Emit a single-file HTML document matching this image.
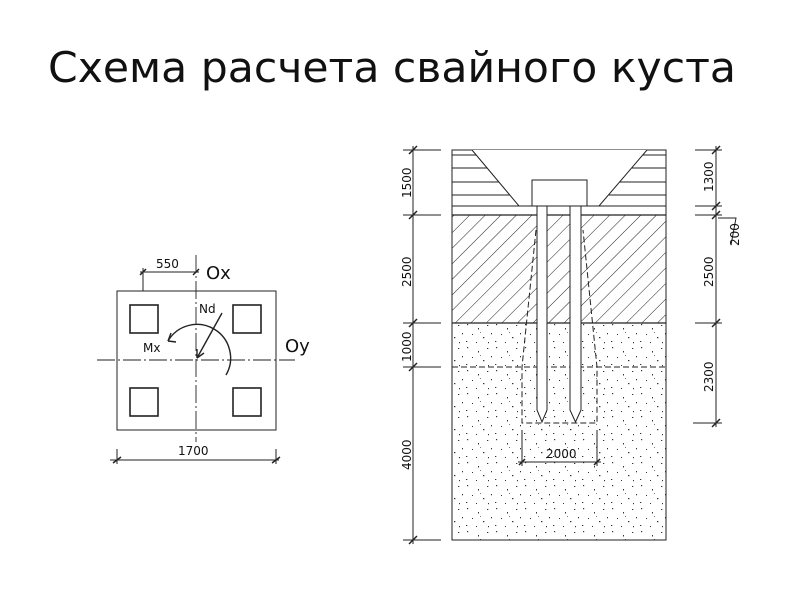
<!DOCTYPE html>
<html><head><meta charset="utf-8"><style>html,body{margin:0;padding:0;background:#fff}svg{display:block}</style></head><body>
<svg width="800" height="600" viewBox="0 0 800 600" xmlns="http://www.w3.org/2000/svg" font-family="'DejaVu Sans','Liberation Sans',sans-serif">
<defs>
<pattern id="hat" width="11" height="11" patternUnits="userSpaceOnUse" patternTransform="rotate(45)">
<line x1="0" y1="0" x2="0" y2="11" stroke="#222" stroke-width="1"/></pattern>
<pattern id="dots" width="29" height="23" patternUnits="userSpaceOnUse">
<g fill="#333"><rect x="3" y="2" width="1.2" height="1.2"/><rect x="14" y="6" width="1" height="1.5"/><rect x="23" y="3" width="1.3" height="1"/><rect x="8" y="12" width="1" height="1"/><rect x="19" y="15" width="1.4" height="1.2"/><rect x="27" y="11" width="1" height="1.3"/><rect x="2" y="19" width="1.3" height="1"/><rect x="12" y="20" width="1" height="1"/><rect x="24" y="20" width="1" height="1.2"/><rect x="16" y="10" width="0.8" height="0.8"/></g></pattern>
</defs>
<text x="48" y="82" font-size="42" font-family="'DejaVu Sans',sans-serif" textLength="688" lengthAdjust="spacingAndGlyphs" fill="#111">Схема расчета свайного куста</text>

<!-- left plan -->
<g stroke="#222" fill="none">
<rect x="117" y="291" width="159" height="139" stroke-width="1"/>
<g stroke-width="1.6"><rect x="130" y="305" width="28" height="28"/><rect x="233" y="305" width="28" height="28"/><rect x="130" y="388" width="28" height="28"/><rect x="233" y="388" width="28" height="28"/></g>
<line x1="196" y1="255" x2="196" y2="442" stroke-dasharray="18,3,2,3" stroke-width="0.9"/>
<line x1="97" y1="360" x2="295" y2="360" stroke-dasharray="18,3,2,3" stroke-width="0.9"/>
<line x1="140" y1="272" x2="199" y2="272"/><line x1="143" y1="268" x2="143" y2="291"/>
<line x1="140" y1="275" x2="146" y2="269" stroke-width="1.5"/><line x1="193" y1="275" x2="199" y2="269" stroke-width="1.5"/>
<line x1="110" y1="460" x2="279" y2="460"/><line x1="117" y1="449" x2="117" y2="464"/><line x1="276" y1="449" x2="276" y2="464"/>
<line x1="113" y1="463" x2="121" y2="457" stroke-width="1.5"/><line x1="272" y1="463" x2="280" y2="457" stroke-width="1.5"/>
<path d="M226 375 A31 31 0 0 0 168 341" stroke-width="1.4"/>
<path d="M168 341 l3 -8 M168 341 l8 1" stroke-width="1.4"/>
<line x1="222" y1="313" x2="197" y2="358" stroke-width="1.4"/>
<path d="M197 358 l0 -9 M197 358 l7 -5" stroke-width="1.4"/>
</g>
<g fill="#111" font-size="12"><text x="156" y="268">550</text><text x="178" y="455">1700</text><text x="199" y="313">Nd</text><text x="143" y="352">Mx</text></g>
<g fill="#111" font-size="18"><text x="206" y="279">Ox</text><text x="285" y="352">Oy</text></g>

<!-- section -->
<rect x="452" y="323" width="214" height="217" fill="url(#dots)"/>
<path d="M452 215 H537 V323 H452Z M547 215 H570 V323 H547Z M581 215 H666 V323 H581Z" fill="url(#hat)"/>
<g stroke="#222" fill="none" stroke-width="1">
<rect x="452" y="150" width="214" height="390"/>
<line x1="472" y1="150" x2="647" y2="150" stroke-dasharray="5,3"/>
<line x1="452" y1="150" x2="472" y2="150"/><line x1="647" y1="150" x2="666" y2="150"/>
<polyline points="472,150 519,206 599,206 647,150" fill="#fff"/>
<g><line x1="452" y1="155" x2="476" y2="155"/><line x1="643" y1="155" x2="666" y2="155"/>
<line x1="452" y1="168" x2="487" y2="168"/><line x1="632" y1="168" x2="666" y2="168"/>
<line x1="452" y1="182" x2="499" y2="182"/><line x1="620" y1="182" x2="666" y2="182"/>
<line x1="452" y1="195" x2="510" y2="195"/><line x1="609" y1="195" x2="666" y2="195"/></g>
<line x1="452" y1="206" x2="666" y2="206"/>
<line x1="452" y1="215" x2="666" y2="215" stroke-width="1.3"/>
<line x1="452" y1="323" x2="666" y2="323" stroke-width="1.3"/>
<line x1="452" y1="367" x2="666" y2="367" stroke-dasharray="6,3"/>
<rect x="532" y="180" width="55" height="26" fill="#fff"/>
<path d="M537 206 V410 L542 422 L547 410 V206Z" fill="#fff"/>
<path d="M570 206 V410 L575.5 422 L581 410 V206Z" fill="#fff"/>
<path d="M536 230 L522 367 V423 H597 V367 L583 230" stroke-dasharray="6,3"/>
<line x1="522" y1="430" x2="522" y2="466"/><line x1="597" y1="430" x2="597" y2="466"/>
<line x1="518" y1="462" x2="601" y2="462"/>
<line x1="519" y1="465" x2="525" y2="459" stroke-width="1.5"/><line x1="594" y1="465" x2="600" y2="459" stroke-width="1.5"/>
<!-- left dims -->
<line x1="413" y1="146" x2="413" y2="544"/>
<g><line x1="403" y1="150" x2="441" y2="150"/><line x1="403" y1="215" x2="441" y2="215"/><line x1="403" y1="323" x2="441" y2="323"/><line x1="403" y1="367" x2="441" y2="367"/><line x1="403" y1="540" x2="441" y2="540"/></g>
<g stroke-width="1.5"><line x1="409" y1="154" x2="417" y2="146"/><line x1="409" y1="219" x2="417" y2="211"/><line x1="409" y1="327" x2="417" y2="319"/><line x1="409" y1="371" x2="417" y2="363"/><line x1="409" y1="544" x2="417" y2="536"/></g>
<!-- right dims -->
<line x1="716" y1="146" x2="716" y2="427"/>
<g><line x1="695" y1="150" x2="722" y2="150"/><line x1="695" y1="206" x2="722" y2="206"/><line x1="695" y1="215" x2="722" y2="215"/><line x1="695" y1="323" x2="722" y2="323"/><line x1="693" y1="423" x2="722" y2="423"/></g>
<g stroke-width="1.5"><line x1="712" y1="154" x2="720" y2="146"/><line x1="712" y1="210" x2="720" y2="202"/><line x1="712" y1="219" x2="720" y2="211"/><line x1="712" y1="327" x2="720" y2="319"/><line x1="712" y1="427" x2="720" y2="419"/></g>
<polyline points="718,218 736,218 731,245"/>
</g>
<g fill="#111" font-size="12">
<text x="546" y="458">2000</text>
<text transform="translate(411,198) rotate(-90)">1500</text>
<text transform="translate(411,287) rotate(-90)">2500</text>
<text transform="translate(411,362) rotate(-90)">1000</text>
<text transform="translate(411,470) rotate(-90)">4000</text>
<text transform="translate(713,192) rotate(-90)">1300</text>
<text transform="translate(713,287) rotate(-90)">2500</text>
<text transform="translate(713,392) rotate(-90)">2300</text>
<text transform="translate(739,246) rotate(-90)">200</text>
</g>
</svg>
</body></html>
